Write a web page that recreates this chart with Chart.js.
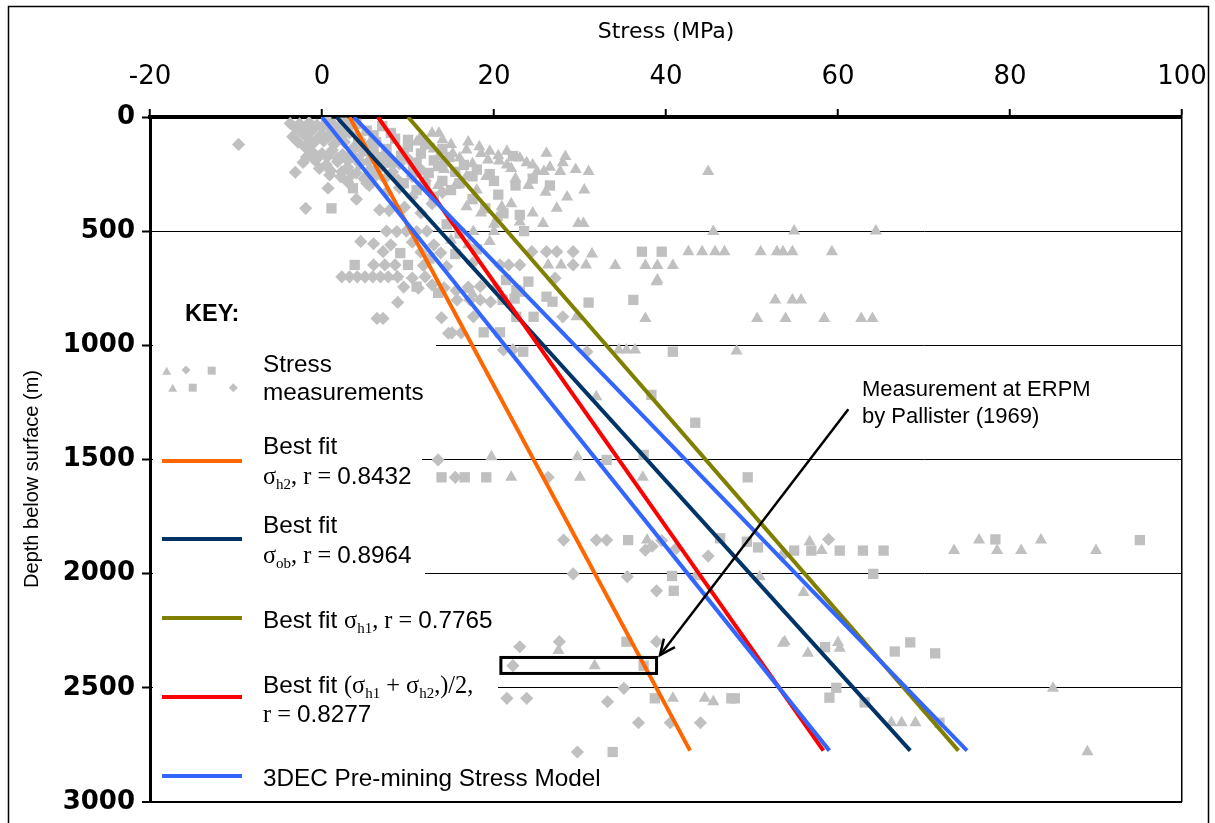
<!DOCTYPE html>
<html><head><meta charset="utf-8">
<script src="https://cdn.jsdelivr.net/npm/chart.js@4.4.1/dist/chart.umd.min.js"></script>
<style>
html,body{margin:0;padding:0;background:#fff;}
#wrap{position:relative;width:1215px;height:823px;overflow:hidden;background:#fff;}
#c{position:absolute;left:0;top:0;}
.t{position:absolute;white-space:nowrap;font-family:"Liberation Sans",Arial,sans-serif;font-size:24.3px;line-height:30px;color:#000;}
.s{font-family:"Liberation Serif","Times New Roman",serif;}
.sub{font-family:"Liberation Serif","Times New Roman",serif;font-size:15px;position:relative;top:5px;}
.ln{position:absolute;left:162px;width:80px;height:4px;}
#svgk{position:absolute;left:0;top:0;}
</style></head><body>
<div id="wrap">
<canvas id="c" width="1215" height="823"></canvas>
<div class="t" style="left:185px;top:298px;font-weight:bold;font-size:23.5px;">KEY:</div>
<svg id="svgk" width="1215" height="823">
<g fill="#C0C0C0">
<polygon points="162.2,374.7 171.2,374.7 166.7,366.7"/>
<polygon points="186,365.5 190.5,370 186,374.5 181.5,370"/>
<rect x="207.7" y="366.7" width="8" height="8"/>
<polygon points="168.2,391.7 177.2,391.7 172.7,383.7"/>
<rect x="188.7" y="383.7" width="8" height="8"/>
<polygon points="233.3,383.2 237.8,387.7 233.3,392.2 228.8,387.7"/>
</g></svg>
<div class="t" style="left:263px;top:348.6px;">Stress</div>
<div class="t" style="left:263px;top:376.6px;">measurements</div>
<div class="ln" style="top:458.5px;background:#FF6600;"></div>
<div class="t" style="left:263px;top:430.6px;">Best fit</div>
<div class="t" style="left:263px;top:460.6px;"><span class="s">σ</span><span class="sub">h2</span><span class="s">, r = </span>0.8432</div>
<div class="ln" style="top:537px;background:#003366;"></div>
<div class="t" style="left:263px;top:509.6px;">Best fit</div>
<div class="t" style="left:263px;top:539.6px;"><span class="s">σ</span><span class="sub">ob</span><span class="s">, r = </span>0.8964</div>
<div class="ln" style="top:616px;background:#808000;"></div>
<div class="t" style="left:263px;top:604.6px;">Best fit <span class="s">σ</span><span class="sub">h1</span><span class="s">, r = </span>0.7765</div>
<div class="ln" style="top:695px;background:#FF0000;"></div>
<div class="t" style="left:263px;top:669.6px;">Best fit <span class="s">(σ</span><span class="sub">h1</span><span class="s"> + σ</span><span class="sub">h2</span><span class="s">,)/2,</span></div>
<div class="t" style="left:263px;top:698.6px;"><span class="s">r = </span>0.8277</div>
<div class="ln" style="top:774px;background:#3366FF;"></div>
<div class="t" style="left:263px;top:762.6px;">3DEC Pre-mining Stress Model</div>
<div class="t" style="left:862px;top:375px;font-size:22px;line-height:27px;">Measurement at ERPM<br>by Pallister (1969)</div>
</div>
<script>
// ---------- data ----------
const depthTicks = [0, 500, 1000, 1500, 2000, 2500, 3000];
const stressTicks = [-20, 0, 20, 40, 60, 80, 100];

// best-fit / model lines: stress (MPa) at depth 0 and at depth end
const fitDepth = [0, 2775];
const fitSigmaH2 = [3.2, 42.8];
const fitSigmaOb = [1.7, 68.4];
const fitSigmaH1 = [10.0, 74.0];
const fitMeanH = [6.5, 58.3];
const model3decLow = [0.0, 59.0];
const model3decHigh = [3.7, 75.0];

// stress measurements [stress MPa, depth m]
const diamondPts = [
[-3.7,28],[-2.6,30],[-1.5,25],[-0.6,35],[0.4,28],[1.5,40],[-3.4,86],[-2.3,70],[-1.2,60],[0,75],[1.2,65],[2.4,80],
[-2.0,130],[-1.0,115],[0.2,105],[1.4,120],[2.6,110],[3.8,130],[-1.2,150],[0,160],[1.2,145],[2.4,165],[3.6,175],[4.8,150],[6.0,165],
[-2.2,199],[-0.8,190],[0.5,210],[1.8,195],[3.0,220],[4.4,205],[5.6,230],[7.0,215],[-3.1,242],[0.9,254],[2.2,262],[3.5,250],[4.9,270],
[6.3,255],[8.2,240],[0.7,312],[5.5,300],[7.5,330],[9.0,310],[10.5,350],[-1.9,400],[6.7,407],[7.8,410],[9.6,395],[11.5,420],[12.8,380],
[4.0,360],[14.0,330],[-9.7,120],
[-3.0,50],[-2.0,45],[-1.0,50],[0.0,45],[1.0,50],[2.0,55],[3.0,35],[-2.8,110],[-1.6,95],[-0.4,90],[0.8,85],[2.0,95],[3.2,70],[4.4,100],
[5.5,120],[-1.8,175],[-0.6,180],[0.6,175],[1.8,180],[3.0,190],[4.2,185],[5.4,195],[6.6,200],[7.8,180],[9.0,205],[10.2,190],[-0.3,225],
[1.0,235],[2.3,240],[4.0,245],[6.0,240],[7.3,270],[8.8,275],[10.5,260],[12.0,280],[3.0,285],[5.2,290],[11.5,230],
[7.5,500],[8.7,502],[9.8,500],[11.0,502],[12.2,500],[4.5,545],[6.0,555],[8.0,560],[10.5,548],[13.0,560],[7.1,590],[11.5,592],[13.8,595],
[6.0,648],[7.3,648],[8.5,648],[11.8,650],[14.5,655],[17.5,640],[2.3,700],[3.2,700],[4.1,700],[5.0,700],[5.9,700],[6.8,700],[7.7,700],
[8.8,700],[10.5,705],[12.0,700],[9.5,745],[11.2,750],[12.8,735],[14.2,748],[15.6,760],[17.0,745],[18.4,742],[20.2,748],[15.7,801],
[17.2,801],[18.4,801],[19.6,810],[8.8,812],[6.4,882],[7.1,882],[13.9,879],[17.6,875],[28.0,875],[14.7,947],[15.1,945],[16.2,945],
[24.4,590],[26.1,590],[27.3,590],[29.2,590],[20.7,648],[21.7,648],[23.0,648],[29.2,648],[27.1,706],
[21.1,1020],[22.2,1020],[30.8,1028],
[13.5,1502],[15.5,1578],[26.3,1578],[28.1,1853],[31.9,1853],[33.1,1853],[39.5,1855],[38.4,1880],[37.6,1897],[41.2,1889],[44.9,1923],
[53.5,1923],[58.9,1850],[29.2,2001],[35.5,2013],[38.9,2075],[23.0,2320],[27.6,2298],[38.9,2298],[22.2,2403],[35.1,2502],[21.5,2546],
[23.8,2546],[33.2,2561],[36.8,2653],[40.5,2653],[44.0,2653],[29.7,2781]
];
const squarePts = [
[1.0,30],[3.0,45],[5.2,60],[7.0,40],[2.0,100],[4.2,90],[6.3,110],[8.5,95],[10.0,130],[5.0,150],[7.5,140],[9.2,170],[11.5,160],
[13.0,190],[14.8,175],[16.5,210],[8.0,200],[10.6,225],[12.4,245],[3.6,312],[1.1,400],[22.2,171],[18.0,230],[20.0,280],[9.5,290],
[0.5,20],[2.4,25],[4.0,30],[6.0,80],[8.0,70],[10.0,100],[12.0,120],[14.0,140],[3.5,150],[6.0,135],[7.0,175],[9.5,155],[11.0,200],
[13.5,215],[15.5,240],[17.5,260],[19.5,250],[14.0,280],[16.0,290],[11.0,320],[13.0,350],[20.5,340],[22.5,300],[24.5,270],[26.5,300],
[12.0,300],[15.0,320],[17.5,360],[19.0,400],[21.1,422],[23.0,429],[23.5,500],[14.5,470],[16.0,510],[9.1,596],[3.8,648],[10.0,648],
[12.5,620],[15.5,600],[18.0,580],[11.0,743],[13.5,770],[21.4,714],[24.0,721],[23.0,765],[22.6,758],[26.1,787],[26.8,809],[36.2,801],
[31.0,813],[21.0,801],[22.4,795],[18.8,943],[20.7,943],[22.6,875],[24.6,875],[37.2,590],[39.5,590],
[23.4,1028],[40.8,1028],[38.3,1217],[43.4,1339],[33.1,1502],[37.4,1480],[13.9,1578],[16.6,1578],[19.1,1578],[49.5,1578],[35.6,1853],
[46.3,1845],[49.4,1860],[50.7,1885],[54.9,1899],[56.9,1899],[60.2,1899],[62.9,1899],[65.3,1899],[78.3,1850],[95.1,1853],[40.7,2010],
[64.1,2001],[40.9,2075],[35.4,2298],[37.4,2403],[58.5,2322],[66.6,2341],[68.4,2301],[71.3,2349],[38.7,2546],[47.6,2546],[48.0,2546],
[59.8,2500],[59.0,2543],[63.1,2564],[71.8,2653],[33.8,2781]
];
const trianglePts = [
[12.8,71],[13.6,71],[11.0,110],[12.5,125],[14.0,100],[16.8,145],[18.3,130],[15.2,160],[13.5,175],[19.3,188],[20.6,193],[23.8,200],
[26.1,159],[28.3,173],[21.5,150],[17.5,205],[22.0,225],[25.0,239],[25.8,239],[27.7,239],[31.0,239],[44.9,239],[19.1,261],[16.8,261],
[11.5,85],[13.0,140],[15.0,120],[16.0,180],[17.0,110],[18.5,160],[19.5,150],[20.5,170],[21.5,210],[23.0,180],[24.5,210],[26.5,220],
[28.0,200],[29.5,230],[22.5,270],[24.0,300],[26.0,330],[28.5,350],[30.5,320],[14.0,205],[11.5,240],[13.5,300],[22.0,380],[24.5,420],
[20.0,470],[23.0,460],
[14.2,230],[12.0,280],[15.5,300],[18.0,320],[16.8,393],[20.9,393],[27.3,400],[18.5,420],[20.4,440],[25.7,466],[29.8,466],[30.4,466],
[17.6,502],[20.0,502],[45.5,502],[54.9,499],[64.4,499],
[15.0,540],[17.0,560],[19.5,545],[31.4,600],[42.6,590],[44.2,590],[45.7,590],[46.8,590],[51.0,590],[52.9,590],[53.6,590],[54.7,590],
[59.3,590],[26.3,648],[27.8,648],[30.7,648],[34.1,650],[37.6,650],[39.0,650],[40.8,650],[39.0,714],[38.9,721],[8.7,700],[16.8,755],
[17.5,775],[52.7,801],[54.7,801],[55.7,801],[50.6,882],[53.9,882],[58.4,882],[62.7,882],[64.0,882],[29.6,875],[37.6,882],
[34.5,1020],[35.4,1020],[36.4,1020],[48.2,1025],[31.9,1225],[19.7,1488],[29.7,1488],[22.0,1578],[30.0,1578],[37.3,1578],[37.8,1853],
[56.7,1860],[76.4,1853],[83.6,1853],[58.1,1899],[73.5,1899],[78.5,1899],[81.3,1899],[90.0,1899],[53.6,1911],[43.4,2013],[50.9,2013],
[56.0,2083],[53.6,2305],[53.8,2298],[56.5,2349],[60.0,2302],[60.2,2327],[27.5,2337],[31.7,2403],[85.0,2502],[40.8,2546],[44.5,2546],
[45.5,2561],[66.2,2653],[67.4,2653],[69.0,2653],[89.0,2780]
];

// annotation: measurement at ERPM by Pallister (1969)
const erpmStress = [20.8, 38.9];
const erpmDepth = [2367, 2437];
const arrowFrom = [61.2, 1280];
const arrowTo = [39.3, 2357];

// ---------- chart ----------
const toXY = pts => pts.map(p => ({x: p[0], y: p[1]}));
const fitLine = vals => vals.map((v, i) => ({x: v, y: fitDepth[i]}));
const GREY = '#C0C0C0';

const keyMasks = [[1000, 436], [1500, 422], [2000, 425], [2500, 498]];

const decor = {
  id: 'decor',
  beforeDraw(chart) {
    const ctx = chart.ctx;
    ctx.save();
    ctx.fillStyle = '#fff';
    ctx.fillRect(0, 0, chart.width, chart.height);
    ctx.strokeStyle = '#000';
    ctx.lineWidth = 1.5;
    ctx.strokeRect(8.5, 6.5, 1200, 840);
    ctx.restore();
  },
  beforeDatasetsDraw(chart) {
    const ctx = chart.ctx, ys = chart.scales.y, left = chart.chartArea.left + 3;
    ctx.save();
    ctx.fillStyle = '#fff';
    keyMasks.forEach(([d, right]) => {
      const py = ys.getPixelForValue(d);
      ctx.fillRect(left, py - 3, right - left, 6);
    });
    ctx.restore();
  },
  afterDatasetsDraw(chart) {
    const ctx = chart.ctx, xs = chart.scales.x, ys = chart.scales.y;
    ctx.save();
    ctx.strokeStyle = '#000';
    ctx.lineWidth = 3;
    const x0 = xs.getPixelForValue(erpmStress[0]), x1 = xs.getPixelForValue(erpmStress[1]);
    const y0 = ys.getPixelForValue(erpmDepth[0]), y1 = ys.getPixelForValue(erpmDepth[1]);
    ctx.strokeRect(x0, y0, x1 - x0, y1 - y0);
    const ax = xs.getPixelForValue(arrowFrom[0]), ay = ys.getPixelForValue(arrowFrom[1]);
    const bx = xs.getPixelForValue(arrowTo[0]), by = ys.getPixelForValue(arrowTo[1]);
    ctx.lineWidth = 2.5;
    ctx.beginPath(); ctx.moveTo(ax, ay); ctx.lineTo(bx, by); ctx.stroke();
    const ang = Math.atan2(ay - by, ax - bx), L = 17, sp = 0.42;
    ctx.beginPath();
    ctx.moveTo(bx + L * Math.cos(ang - sp), by + L * Math.sin(ang - sp));
    ctx.lineTo(bx, by);
    ctx.lineTo(bx + L * Math.cos(ang + sp), by + L * Math.sin(ang + sp));
    ctx.stroke();
    ctx.restore();
  }
};

const lineDs = (label, vals, color, order) => ({
  label, data: fitLine(vals), showLine: true, borderColor: color, backgroundColor: color,
  borderWidth: 4, pointRadius: 0, borderCapStyle: 'butt', order
});
const ptDs = (label, pts, style, r) => ({
  label, data: toXY(pts), showLine: false, pointStyle: style, pointRadius: r,
  pointBackgroundColor: GREY, pointBorderColor: GREY, pointBorderWidth: 0, order: 10
});

new Chart(document.getElementById('c'), {
  type: 'scatter',
  data: {
    datasets: [
      lineDs('3DEC Pre-mining Stress Model', model3decLow, '#3366FF', 0),
      lineDs('3DEC Pre-mining Stress Model (2)', model3decHigh, '#3366FF', 0),
      lineDs('Best fit (σh1 + σh2)/2', fitMeanH, '#FF0000', 1),
      lineDs('Best fit σh1', fitSigmaH1, '#808000', 2),
      lineDs('Best fit σob', fitSigmaOb, '#003366', 3),
      lineDs('Best fit σh2', fitSigmaH2, '#FF6600', 4),
      ptDs('Stress measurements σh2', diamondPts, 'rectRot', 6.6),
      ptDs('Stress measurements σob', squarePts, 'rect', 7.3),
      ptDs('Stress measurements σh1', trianglePts, 'triangle', 7)
    ]
  },
  options: {
    responsive: false, animation: false, devicePixelRatio: 1,
    layout: {padding: {left: 0, top: 0, right: 33, bottom: 21}},
    plugins: {legend: {display: false}, tooltip: {enabled: false}},
    scales: {
      x: {
        type: 'linear', position: 'top', min: stressTicks[0], max: stressTicks[stressTicks.length - 1],
        afterBuildTicks: s => { s.ticks = stressTicks.map(v => ({value: v})); },
        ticks: {color: '#000', font: {family: 'DejaVu Sans', size: 26}, padding: 16, maxRotation: 0, autoSkip: false,
                callback: v => String(v)},
        grid: {
          drawOnChartArea: true,
          color: c => (c.tick && c.tick.value === 100) ? '#000' : 'rgba(0,0,0,0)',
          lineWidth: 1.5, tickColor: '#000', tickLength: 8, tickWidth: 2
        },
        border: {display: true, color: '#000', width: 4},
        title: {display: true, text: 'Stress (MPa)', color: '#000', font: {family: 'DejaVu Sans', size: 22}, padding: {top: 19, bottom: 0}},
        afterFit: s => { s.height = 117; s.paddingLeft = 0; s.paddingRight = 0; }
      },
      y: {
        type: 'linear', reverse: true, min: depthTicks[0], max: depthTicks[depthTicks.length - 1],
        afterBuildTicks: s => { s.ticks = depthTicks.map(v => ({value: v})); },
        ticks: {color: '#000', font: {family: 'DejaVu Sans', size: 26, weight: 'bold'}, padding: 7, autoSkip: false,
                callback: v => String(v)},
        grid: {
          color: '#000', lineWidth: c => (c.tick && c.tick.value === 3000) ? 2 : 1,
          tickColor: '#000', tickLength: 8, tickWidth: 2
        },
        border: {display: true, color: '#000', width: 3},
        title: {display: true, text: 'Depth below surface (m)       ', color: '#000', font: {family: 'Liberation Sans', size: 20}, padding: {top: 20, bottom: 0}},
        afterFit: s => { s.width = 150; s.paddingTop = 0; s.paddingBottom = 0; }
      }
    }
  },
  plugins: [decor]
});
</script>
</body></html>
